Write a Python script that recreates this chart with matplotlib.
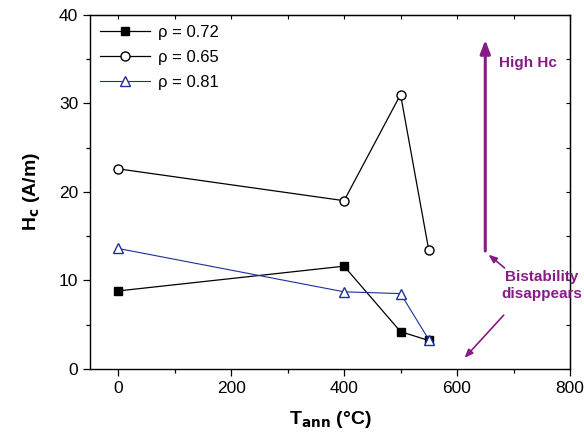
import matplotlib
matplotlib.use('Agg')
import matplotlib.pyplot as plt
from matplotlib.ticker import MultipleLocator

plt.rcParams['font.family'] = ['Liberation Sans', 'DejaVu Sans']

T_ann = [0, 400, 500, 550]
hc_072 = [8.8, 11.6, 4.2, 3.2]
hc_065 = [22.6, 19.0, 31.0, 13.4]
hc_081 = [13.6, 8.7, 8.5, 3.3]

purple = '#861c86'

fig = plt.figure(figsize=(5.84, 4.38), dpi=100)
ax = fig.add_axes([0.154, 0.158, 0.822, 0.808])

ax.plot(T_ann, hc_072, '-', color='black', lw=0.9, marker='s', ms=6,
        mfc='black', mec='black', label='ρ = 0.72')
ax.plot(T_ann, hc_065, '-', color='black', lw=0.9, marker='o', ms=6.5,
        mfc='white', mec='black', label='ρ = 0.65')
ax.plot(T_ann, hc_081, '-', color='#1f2f9a', lw=0.8, marker='^', ms=7,
        mfc='white', mec='#1f2f9a', label='ρ = 0.81')

ax.set_xlim(-50, 800)
ax.set_ylim(0, 40)
ax.xaxis.set_major_locator(MultipleLocator(200))
ax.xaxis.set_minor_locator(MultipleLocator(100))
ax.yaxis.set_major_locator(MultipleLocator(10))
ax.yaxis.set_minor_locator(MultipleLocator(5))
ax.tick_params(which='both', direction='out', labelsize=12.5, width=0.9)
ax.tick_params(which='major', length=5)
ax.tick_params(which='minor', length=3)
for s in ax.spines.values():
    s.set_linewidth(1.0)

# inward ticks on top and right spines
axt = ax.secondary_xaxis('top')
axt.xaxis.set_major_locator(MultipleLocator(100))
axt.tick_params(direction='in', length=3, labeltop=False, width=0.8)
axr = ax.secondary_yaxis('right')
axr.yaxis.set_major_locator(MultipleLocator(5))
axr.tick_params(direction='in', length=3, labelright=False, width=0.8)

ax.set_xlabel('T$_{\\mathbf{ann}}$ (°C)', fontsize=14, fontweight='bold', labelpad=10)
ax.set_ylabel('H$_{\\mathbf{c}}$ (A/m)', fontsize=14, fontweight='bold', labelpad=12)

ax.legend(loc='upper left', frameon=False, fontsize=12, handlelength=3.0,
          handletextpad=0.5, borderaxespad=0.2, labelspacing=0.6)

# annotations
ax.annotate('', xy=(650, 37.5), xytext=(650, 13.0),
            arrowprops=dict(arrowstyle='-|>,head_width=0.3,head_length=0.8',
                            color=purple, lw=2.2))
ax.text(675, 34.6, 'High Hc', color=purple, fontsize=11, fontweight='bold',
        va='center', ha='left')
ax.text(750, 9.4, 'Bistability\ndisappears', color=purple, fontsize=11,
        fontweight='bold', ha='center', va='center', linespacing=1.3)
ax.annotate('', xy=(652, 13.1), xytext=(688, 11.2),
            arrowprops=dict(arrowstyle='-|>,head_width=0.2,head_length=0.5',
                            color=purple, lw=1.2))
ax.annotate('', xy=(610, 1.0), xytext=(686, 6.3),
            arrowprops=dict(arrowstyle='-|>,head_width=0.2,head_length=0.5',
                            color=purple, lw=1.2))

fig.savefig('out.png', dpi=100)
